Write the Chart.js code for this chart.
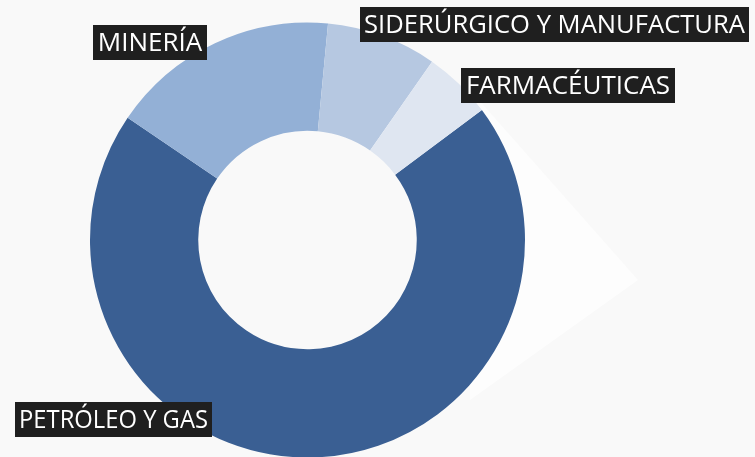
<!DOCTYPE html>
<html lang="es">
<head>
<meta charset="utf-8">
<script src="https://cdn.jsdelivr.net/npm/chart.js@4"></script>
<style>
  html, body { margin: 0; padding: 0; background: #f9f9f9; }
  #wrap { width: 755px; height: 457px; position: relative; }
</style>
</head>
<body>
<div id="wrap"><canvas id="sectoresChart"></canvas></div>
<script>
// Datos
const sectores = ['PETRÓLEO Y GAS', 'MINERÍA', 'SIDERÚRGICO Y MANUFACTURA', 'FARMACÉUTICAS'];
const porcentajes = [69.7, 17.0, 8.2, 5.1];
const colores = ['#3a5f93', '#93b0d6', '#b6c8e1', '#dfe6f1'];

// Posición de las etiquetas (cajas negras)
const cajas = [
    { x: 15, y: 402, w: 197 },
    { x: 93, y: 25, w: 114 },
    { x: 360, y: 7, w: 389 },
    { x: 461, y: 68, w: 214 }
];

const fondo = {
    id: 'fondo',
    beforeDraw(chart) {
        const ctx = chart.ctx;
        ctx.save();
        // flecha tenue detrás del anillo
        ctx.fillStyle = '#fdfdfd';
        ctx.beginPath();
        ctx.moveTo(470, 90);
        ctx.lineTo(638, 280);
        ctx.lineTo(470, 400);
        ctx.closePath();
        ctx.fill();
        ctx.restore();
    }
};

const etiquetas = {
    id: 'etiquetas',
    afterDraw(chart) {
        const ctx = chart.ctx;
        ctx.save();
        ctx.font = "25px 'Open Sans', sans-serif";
        ctx.textBaseline = 'middle';
        ctx.textAlign = 'center';
        sectores.forEach((s, i) => {
            const c = cajas[i];
            ctx.fillStyle = '#1f1f1f';
            ctx.fillRect(c.x, c.y, c.w, 35);
            ctx.fillStyle = '#ffffff';
            const ancho = ctx.measureText(s).width;
            const escala = Math.min(1.04, (c.w - 8) / ancho);
            ctx.save();
            ctx.translate(c.x + c.w / 2, c.y + 19);
            ctx.scale(escala, 1);
            ctx.fillText(s, 0, 0);
            ctx.restore();
        });
        ctx.restore();
    }
};

new Chart(document.getElementById('sectoresChart'), {
    type: 'doughnut',
    data: {
        labels: sectores,
        datasets: [{
            data: porcentajes,
            backgroundColor: colores,
            borderWidth: 0,
            hoverOffset: 0
        }]
    },
    options: {
        responsive: true,
        maintainAspectRatio: false,
        animation: false,
        rotation: 53.3,
        radius: 217.5,
        cutout: 109,
        layout: { padding: { left: 90, right: 230, top: 23, bottom: 0 } },
        plugins: {
            legend: { display: false },
            tooltip: { enabled: false }
        }
    },
    plugins: [fondo, etiquetas]
});
</script>
</body>
</html>
